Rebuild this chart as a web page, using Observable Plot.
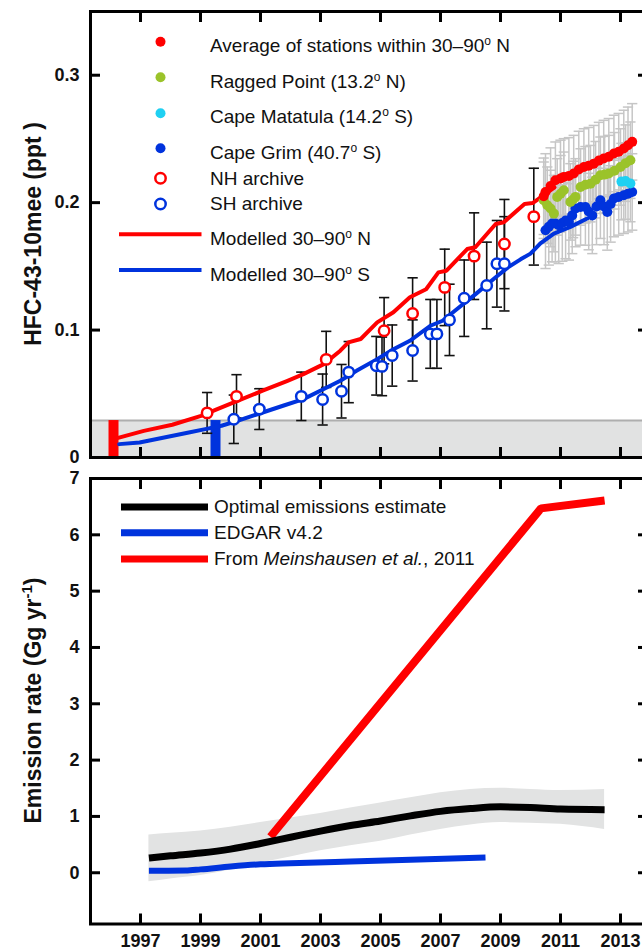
<!DOCTYPE html>
<html><head><meta charset="utf-8">
<script src="https://cdn.jsdelivr.net/npm/d3@7"></script>
<script src="https://cdn.jsdelivr.net/npm/@observablehq/plot@0.6"></script>
<style>
html,body{margin:0;padding:0;background:#fff;overflow:hidden;}
#chart{width:642px;overflow:hidden;}
#chart svg{display:block;}
</style></head><body><div id="chart"></div>
<script>
// ---------- DATA ----------
const yearTicks = [1997, 1999, 2001, 2003, 2005, 2007, 2009, 2011, 2013];
const concTicks = [0, 0.1, 0.2, 0.3];
const emisTicks = [0, 1, 2, 3, 4, 5, 6, 7];

// Modelled mole fractions [year, ppt]
const modelledN = [[1996.10,0.0144],[1997.11,0.0209],[1998.06,0.0257],[1999.02,0.0327],[1999.56,0.038],[2000.11,0.0432],[2001.07,0.0524],[2001.88,0.060],[2002.43,0.0654],[2003.11,0.0733],[2003.66,0.0838],[2003.93,0.0903],[2004.34,0.093],[2004.89,0.106],[2005.43,0.114],[2005.98,0.1257],[2006.52,0.132],[2006.93,0.1453],[2007.2,0.1466],[2007.89,0.1636],[2008.16,0.165],[2008.84,0.1832],[2009.11,0.1846],[2009.80,0.199],[2010.07,0.1997],[2010.34,0.2042],[2010.8,0.212]];
const modelledS = [[1996.29,0.0105],[1996.97,0.0118],[1997.79,0.0157],[1998.61,0.0196],[1999.16,0.0223],[1999.70,0.0249],[2000.18,0.0283],[2001.07,0.0353],[2001.75,0.0406],[2002.43,0.0458],[2003.11,0.0537],[2003.66,0.0602],[2004.20,0.068],[2004.89,0.0772],[2005.43,0.085],[2005.98,0.0916],[2006.66,0.1034],[2007.07,0.1073],[2007.48,0.1152],[2008.16,0.128],[2008.84,0.1414],[2009.25,0.1492],[2009.67,0.1555],[2010.0,0.160],[2010.33,0.168],[2010.78,0.1757],[2011.33,0.181],[2011.89,0.1875]];

// Archive samples [year, ppt, uncertainty]
const nhArchive = [[1999.22,0.035,0.016],[2000.2,0.048,0.017],[2003.19,0.077,0.022],[2005.12,0.0995,0.026],[2006.07,0.113,0.028],[2007.14,0.1335,0.030],[2008.12,0.158,0.034],[2009.13,0.1675,0.035],[2010.11,0.189,0.038]];
const shArchive = [[2000.11,0.030,0.019],[2000.96,0.038,0.016],[2002.36,0.048,0.019],[2003.07,0.0455,0.020],[2003.70,0.052,0.021],[2003.94,0.067,0.024],[2004.86,0.072,0.023],[2005.05,0.0715,0.023],[2005.39,0.080,0.024],[2006.07,0.084,0.024],[2006.66,0.097,0.027],[2006.88,0.097,0.027],[2007.30,0.108,0.028],[2007.79,0.125,0.030],[2008.54,0.135,0.034],[2008.88,0.152,0.034],[2009.13,0.152,0.037]];

// In situ station records [year, ppt]
const stationsNH = [[2010.44,0.205],[2010.5,0.2084],[2010.67,0.213],[2010.83,0.2176],[2011.0,0.219],[2011.11,0.2202],[2011.28,0.221],[2011.44,0.2228],[2011.61,0.226],[2011.78,0.228],[2011.94,0.229],[2012.11,0.2306],[2012.28,0.233],[2012.44,0.2346],[2012.61,0.236],[2012.78,0.2386],[2012.94,0.240],[2013.11,0.2425],[2013.25,0.245],[2013.39,0.2477]];
const raggedPoint = [[2010.44,0.2019],[2010.56,0.198],[2010.67,0.1954],[2010.78,0.1914],[2010.89,0.2045],[2011.0,0.207],[2011.11,0.2097],[2011.33,0.2006],[2011.42,0.2025],[2011.5,0.2045],[2011.67,0.2123],[2011.83,0.214],[2012.0,0.2149],[2012.17,0.218],[2012.33,0.2215],[2012.47,0.222],[2012.61,0.2228],[2012.8,0.225],[2013.0,0.228],[2013.17,0.231],[2013.33,0.2333]];
const capeMatatula = [[2013.03,0.2165],[2013.17,0.2170],[2013.33,0.2150]];
const capeGrim = [[2010.5,0.1783],[2010.61,0.181],[2010.72,0.1836],[2010.83,0.1836],[2010.94,0.1822],[2011.06,0.184],[2011.17,0.186],[2011.28,0.1849],[2011.39,0.190],[2011.5,0.1954],[2011.67,0.1966],[2011.83,0.1966],[2011.94,0.193],[2012.06,0.190],[2012.2,0.197],[2012.33,0.2019],[2012.45,0.197],[2012.56,0.1927],[2012.67,0.199],[2012.78,0.2032],[2012.94,0.2045],[2013.11,0.2058],[2013.25,0.207],[2013.39,0.2084]];
const stationErr = 0.03;

// Blank / detection level and markers
const blankLevel = 0.029;
const detectMarkers = [[1996.1, 0.029, "N"], [1999.5, 0.029, "S"]];

// Emissions (Gg/yr)
const optYears = [1997.28,1998,1999,2000,2001,2002,2003,2004,2005,2006,2007,2008,2009,2010,2011,2012.47];
const optMid   = [0.26,0.30,0.35,0.42,0.52,0.63,0.74,0.84,0.92,1.01,1.09,1.14,1.17,1.16,1.13,1.12];
const optLow   = [-0.16,-0.11,-0.05,0.05,0.17,0.28,0.39,0.48,0.56,0.67,0.77,0.85,0.89,0.88,0.86,0.77];
const optHigh  = [0.67,0.70,0.74,0.81,0.89,0.97,1.05,1.15,1.24,1.33,1.42,1.48,1.50,1.48,1.46,1.48];
const edgar = [[1997.28,0.035],[1998.5,0.04],[1999,0.06],[2000,0.11],[2001,0.15],[2002,0.17],[2004,0.20],[2006,0.23],[2008.5,0.27]];
const meinshausen = [[2001.33,0.64],[2010.35,6.47],[2012.47,6.61]];

// ---------- STYLE ----------
const FONT = "'Liberation Sans', Arial, Helvetica, sans-serif";
const RED = "#ff0000", BLUE = "#0033dd", GREEN = "#9bc32a", CYAN = "#1fd0f2";
const xDomain = [1995.333, 2013.9];

const capSymbol = { draw(ctx, size) { const w = Math.sqrt(size); ctx.moveTo(-w, 0); ctx.lineTo(w, 0); } };

function frameAxes(yTicks, yFmt, xLabels) {
  const m = [
    Plot.frame({stroke: "black", strokeWidth: 3}),
    Plot.axisX(yearTicks, {anchor: "bottom", tickSize: 10, dy: -10, tickFormat: () => "", strokeWidth: 3, label: null}),
    Plot.axisX(yearTicks, {anchor: "top", tickSize: 10, dy: 10, tickFormat: () => "", strokeWidth: 3, label: null}),
    Plot.axisY(yTicks, {anchor: "left", tickSize: 10, dx: 10, tickFormat: () => "", strokeWidth: 3, label: null}),
    Plot.axisY(yTicks, {anchor: "right", tickSize: 10, dx: -10, tickFormat: () => "", strokeWidth: 3, label: null}),
    Plot.axisY(yTicks, {anchor: "left", tickSize: 0, tickPadding: 11, tickFormat: yFmt, fontSize: 18, fontWeight: "bold", fill: "#111", label: null})
  ];
  if (xLabels) m.push(Plot.axisX(yearTicks, {anchor: "bottom", tickSize: 0, tickPadding: 10, tickFormat: d => String(d), fontSize: 18, fontWeight: "bold", fill: "#111", label: null}));
  return m;
}

function errMarks(data, err, color, w) {
  const ev = typeof err === "function" ? err : () => err;
  return [
    Plot.ruleX(data, {x: d => d[0], y1: d => d[1] - ev(d), y2: d => d[1] + ev(d), stroke: color, strokeWidth: w}),
    Plot.dot(data, {x: d => d[0], y: d => d[1] - ev(d), symbol: capSymbol, r: 2.9, stroke: color, strokeWidth: w, fill: "none"}),
    Plot.dot(data, {x: d => d[0], y: d => d[1] + ev(d), symbol: capSymbol, r: 2.9, stroke: color, strokeWidth: w, fill: "none"})
  ];
}

const allStations = [...stationsNH, ...raggedPoint, ...capeMatatula, ...capeGrim];

const topChart = Plot.plot({
  width: 642, height: 470,
  marginLeft: 90, marginRight: -5, marginTop: 11, marginBottom: 13,
  style: {fontFamily: FONT, background: "white", overflow: "visible"},
  x: {domain: xDomain},
  y: {domain: [0, 0.35]},
  marks: [
    Plot.rect([blankLevel], {y1: 0, y2: d => d, fill: "#e1e2e2"}),
    Plot.ruleY([blankLevel], {y: d => d, stroke: "#aeaeae", strokeWidth: 2}),
    Plot.ruleX(detectMarkers, {x: d => d[0], y1: 0, y2: d => d[1], stroke: d => d[2] === "N" ? RED : BLUE, strokeWidth: 10}),
    ...errMarks(allStations, stationErr, "#c6c6c6", 1.5),
    ...errMarks(nhArchive, d => d[2], "#111", 1.6),
    ...errMarks(shArchive, d => d[2], "#111", 1.6),
    Plot.line(modelledS, {x: d => d[0], y: d => d[1], stroke: BLUE, strokeWidth: 4}),
    Plot.line(modelledN, {x: d => d[0], y: d => d[1], stroke: RED, strokeWidth: 4}),
    Plot.dot(shArchive, {x: d => d[0], y: d => d[1], r: 5.2, stroke: BLUE, strokeWidth: 2.5, fill: "white"}),
    Plot.dot(nhArchive, {x: d => d[0], y: d => d[1], r: 5.2, stroke: RED, strokeWidth: 2.5, fill: "white"}),
    Plot.dot(capeGrim, {x: d => d[0], y: d => d[1], r: 5, fill: BLUE}),
    Plot.dot(capeMatatula, {x: d => d[0], y: d => d[1], r: 5, fill: CYAN}),
    Plot.dot(raggedPoint, {x: d => d[0], y: d => d[1], r: 5, fill: GREEN}),
    Plot.dot(stationsNH, {x: d => d[0], y: d => d[1], r: 5, fill: RED}),
    ...frameAxes(concTicks, d => d === 0 ? "0" : d.toFixed(1), false)
  ]
});

const band = optYears.map((y, i) => ({year: y, lo: optLow[i], hi: optHigh[i], mid: optMid[i]}));

const bottomChart = Plot.plot({
  width: 642, height: 481,
  marginLeft: 90, marginRight: -5, marginTop: 8, marginBottom: 27.5,
  style: {fontFamily: FONT, background: "white", overflow: "visible"},
  x: {domain: xDomain},
  y: {domain: [-0.91, 7]},
  marks: [
    Plot.areaY(band, {x: "year", y1: "lo", y2: "hi", fill: "#e2e3e3", curve: "monotone-x"}),
    Plot.line(meinshausen, {x: d => d[0], y: d => d[1], stroke: RED, strokeWidth: 8, strokeLinecap: "butt", strokeLinejoin: "miter"}),
    Plot.line(band, {x: "year", y: "mid", stroke: "black", strokeWidth: 7, curve: "monotone-x", strokeLinecap: "butt"}),
    Plot.line(edgar, {x: d => d[0], y: d => d[1], stroke: BLUE, strokeWidth: 6, curve: "monotone-x", strokeLinecap: "butt"}),
    ...frameAxes(emisTicks, d => String(d), true)
  ]
});

const root = document.getElementById("chart");
root.appendChild(topChart);
root.appendChild(bottomChart);

// ---------- TEXT / LEGENDS ----------
function addText(svg, x, y, parts, o = {}) {
  const t = d3.select(svg).append("text").attr("x", x).attr("y", y)
    .attr("font-family", FONT).attr("font-size", o.size || 19)
    .attr("font-weight", o.weight || "normal").attr("fill", "#111")
    .attr("text-anchor", o.rotate ? "middle" : "start");
  if (o.rotate) t.attr("transform", `rotate(-90 ${x} ${y})`);
  let shift = 0;
  for (const p of parts) {
    const s = t.append("tspan").text(p.t);
    if (p.italic) s.attr("font-style", "italic");
    if (p.sup) { s.attr("font-size", o.supSize || 12).attr("dy", -(o.supShift || 7)); shift = o.supShift || 7; }
    else if (shift) { s.attr("dy", shift); shift = 0; }
  }
}
const g1 = d3.select(topChart);
const dotRows = [[RED, 41.7], [GREEN, 77.3], [CYAN, 113.3], [BLUE, 148.3]];
dotRows.forEach(([c, y]) => g1.append("circle").attr("cx", 160.5).attr("cy", y).attr("r", 5).attr("fill", c));
[[RED, 178.3], [BLUE, 204]].forEach(([c, y]) => g1.append("circle").attr("cx", 160.5).attr("cy", y).attr("r", 5.2).attr("fill", "white").attr("stroke", c).attr("stroke-width", 2.5));
[[RED, 234.3], [BLUE, 270]].forEach(([c, y]) => g1.append("line").attr("x1", 119).attr("x2", 201.5).attr("y1", y).attr("y2", y).attr("stroke", c).attr("stroke-width", 4));
const TX = 210;
addText(topChart, TX, 52, [{t: "Average of stations within 30–90"}, {t: "o", sup: true}, {t: " N"}]);
addText(topChart, TX, 87.5, [{t: "Ragged Point (13.2"}, {t: "o", sup: true}, {t: " N)"}]);
addText(topChart, TX, 123, [{t: "Cape Matatula (14.2"}, {t: "o", sup: true}, {t: " S)"}]);
addText(topChart, TX, 158.5, [{t: "Cape Grim (40.7"}, {t: "o", sup: true}, {t: " S)"}]);
addText(topChart, TX, 184.5, [{t: "NH archive"}]);
addText(topChart, TX, 210, [{t: "SH archive"}]);
addText(topChart, TX, 245, [{t: "Modelled 30–90"}, {t: "o", sup: true}, {t: " N"}]);
addText(topChart, TX, 281, [{t: "Modelled 30–90"}, {t: "o", sup: true}, {t: " S"}]);
addText(topChart, 41, 234, [{t: "HFC-43-10mee (ppt )"}], {size: 23, weight: "bold", rotate: true});

const g2 = d3.select(bottomChart);
[["black", 37], [BLUE, 62.7], [RED, 89]].forEach(([c, y]) => g2.append("line").attr("x1", 121).attr("x2", 208).attr("y1", y).attr("y2", y).attr("stroke", c).attr("stroke-width", 7));
addText(bottomChart, 214, 43, [{t: "Optimal emissions estimate"}]);
addText(bottomChart, 214, 68.5, [{t: "EDGAR v4.2"}]);
addText(bottomChart, 214, 95, [{t: "From "}, {t: "Meinshausen et al.", italic: true}, {t: ", 2011"}]);
addText(bottomChart, 41, 230.5, [{t: "Emission rate (Gg yr"}, {t: "-1", sup: true}, {t: ")"}], {size: 23, weight: "bold", rotate: true, supSize: 15, supShift: 9});
</script></body></html>
